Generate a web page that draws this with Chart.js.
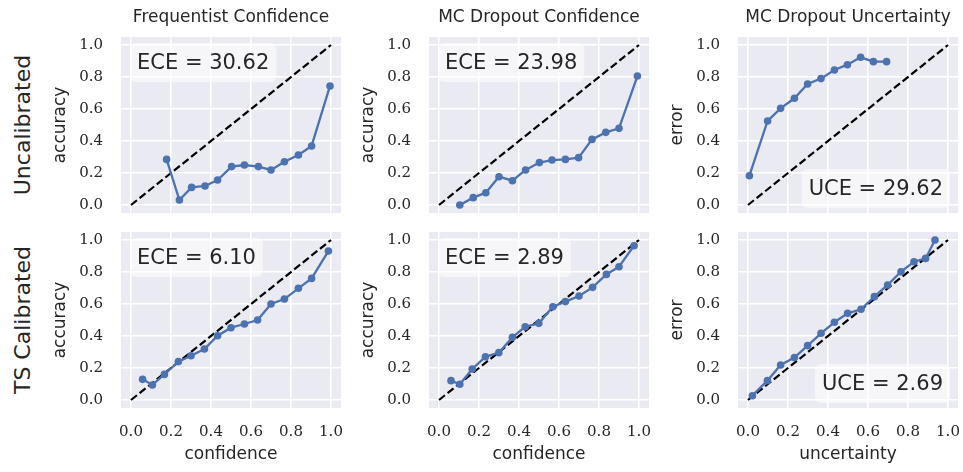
<!DOCTYPE html>
<html>
<head>
<meta charset="utf-8">
<script src="https://cdn.jsdelivr.net/npm/chart.js@4.4.0/dist/chart.umd.min.js"></script>
<style>
  body { margin: 0; background: #fff; width: 963px; height: 472px; overflow: hidden; position: relative; }
  canvas { position: absolute; }
  .rowlab {
    position: absolute; font-family: 'DejaVu Sans', sans-serif; font-size: 22px; color: #262626;
    transform: translate(-50%, -50%) rotate(-90deg); white-space: nowrap;
  }
</style>
</head>
<body>
<div class="rowlab" style="left:22px;top:125px">Uncalibrated</div>
<div class="rowlab" style="left:22px;top:320px">TS Calibrated</div>

<canvas id="p0"></canvas>
<canvas id="p1"></canvas>
<canvas id="p2"></canvas>
<canvas id="p3"></canvas>
<canvas id="p4"></canvas>
<canvas id="p5"></canvas>

<script>
// ---- data ----
const tickValues = [0, 0.2, 0.4, 0.6, 0.8, 1.0];
const diagonal = [0, 1];

const colTitles = ["Frequentist Confidence", "MC Dropout Confidence", "MC Dropout Uncertainty"];
const yLabels = ["accuracy", "accuracy", "error"];
const xLabels = ["confidence", "confidence", "uncertainty"];

// uncalibrated row
const freqUncalX = [0.178, 0.242, 0.303, 0.37, 0.433, 0.503, 0.567, 0.637, 0.70, 0.767, 0.837, 0.903, 0.995];
const freqUncalY = [0.285, 0.031, 0.11, 0.119, 0.156, 0.24, 0.25, 0.24, 0.219, 0.27, 0.3125, 0.369, 0.744];
const mcUncalX = [0.104, 0.171, 0.234, 0.30, 0.367, 0.433, 0.502, 0.565, 0.632, 0.698, 0.765, 0.834, 0.90, 0.992];
const mcUncalY = [0.0, 0.046, 0.077, 0.177, 0.152, 0.219, 0.265, 0.281, 0.285, 0.296, 0.41, 0.454, 0.479, 0.806];
const uncUncalX = [0.007, 0.098, 0.163, 0.232, 0.298, 0.365, 0.432, 0.497, 0.563, 0.627, 0.693];
const uncUncalY = [0.183, 0.525, 0.604, 0.667, 0.756, 0.79, 0.844, 0.877, 0.923, 0.896, 0.896];

// temperature scaled row
const freqTsX = [0.058, 0.107, 0.167, 0.237, 0.30, 0.367, 0.433, 0.50, 0.567, 0.633, 0.70, 0.767, 0.837, 0.903, 0.987];
const freqTsY = [0.129, 0.094, 0.16, 0.24, 0.277, 0.319, 0.402, 0.452, 0.475, 0.50, 0.60, 0.631, 0.698, 0.76, 0.931];
const mcTsX = [0.06, 0.104, 0.166, 0.232, 0.299, 0.367, 0.431, 0.499, 0.569, 0.632, 0.70, 0.768, 0.837, 0.90, 0.975];
const mcTsY = [0.121, 0.098, 0.194, 0.27, 0.296, 0.392, 0.458, 0.479, 0.583, 0.615, 0.65, 0.704, 0.785, 0.833, 0.964];
const uncTsX = [0.022, 0.097, 0.163, 0.232, 0.298, 0.365, 0.432, 0.498, 0.565, 0.632, 0.698, 0.765, 0.83, 0.888, 0.935];
const uncTsY = [0.027, 0.121, 0.219, 0.265, 0.34, 0.417, 0.486, 0.542, 0.567, 0.646, 0.719, 0.802, 0.864, 0.885, 1.0];

const scoreNames = ["ECE", "ECE", "UCE", "ECE", "ECE", "UCE"];
const scoreValues = ["30.62", "23.98", "29.62", "6.10", "2.89", "2.69"];

// ---- layout ----
const COL_LEFT = [41, 349, 658];   // canvas left, plot area starts 80px further right
const Y_AXIS_W = 80;
const CANVAS_W = 304;
const SANS = "'DejaVu Sans', sans-serif";
const SERIF = "'DejaVu Serif', serif";
const TEXT = "#262626";

// grey plot background
const bgPlugin = {
  id: "bg",
  beforeDraw(chart) {
    const a = chart.chartArea, ctx = chart.ctx;
    ctx.save();
    ctx.fillStyle = "#EAEAF2";
    ctx.fillRect(a.left, a.top, a.right - a.left, a.bottom - a.top);
    ctx.restore();
  }
};

// ECE / UCE box
const scorePlugin = {
  id: "score",
  afterDatasetsDraw(chart, args, opts) {
    const a = chart.chartArea, ctx = chart.ctx;
    ctx.save();
    ctx.font = "21px " + SANS;
    const txt = opts.text;
    const w = ctx.measureText(txt).width + 14;
    const h = 39;
    let x, y;
    if (opts.corner === "tl") { x = a.left + 9; y = a.top + 6; }
    else { x = a.right - 8 - w; y = a.bottom - 5 - h; }
    ctx.fillStyle = "rgba(255,255,255,0.55)";
    ctx.beginPath();
    ctx.roundRect(x, y, w, h, 6);
    ctx.fill();
    ctx.fillStyle = TEXT;
    ctx.textBaseline = "alphabetic";
    ctx.fillText(txt, x + 7, y + 26);
    ctx.restore();
  }
};

function makePanel(idx, xs, ys) {
  const col = idx % 3, row = Math.floor(idx / 3);
  const top = row === 0 ? 0 : 222;
  const height = row === 0 ? 222 : 250;
  const cv = document.getElementById("p" + idx);
  cv.width = CANVAS_W; cv.height = height;
  cv.style.left = COL_LEFT[col] + "px";
  cv.style.top = top + "px";
  cv.style.width = CANVAS_W + "px";
  cv.style.height = height + "px";

  const bottomRow = row === 1;
  const pts = xs.map((x, i) => ({ x: x, y: ys[i] }));
  const diag = diagonal.map(v => ({ x: v, y: v }));

  new Chart(cv.getContext("2d"), {
    type: "scatter",
    data: {
      datasets: [
        {
          data: pts, showLine: true, borderColor: "#4C72B0", backgroundColor: "#4C72B0",
          borderWidth: 2.3, pointRadius: 3.8, pointBorderWidth: 0, order: 0
        },
        {
          data: diag, showLine: true, borderColor: "#000", borderWidth: 2.2,
          borderDash: [7.6, 3.4], pointRadius: 0, order: 1
        }
      ]
    },
    options: {
      responsive: false,
      animation: false,
      layout: { padding: { top: bottomRow ? 10 : 0, right: 4, left: 0, bottom: 0 } },
      plugins: {
        legend: { display: false },
        tooltip: { enabled: false },
        title: {
          display: !bottomRow,
          fullSize: false,
          text: colTitles[col],
          color: TEXT,
          font: { family: SANS, size: 17, weight: "normal" },
          padding: { top: 7, bottom: 9.6 }
        },
        score: { text: scoreNames[idx] + " = " + scoreValues[idx], corner: col === 2 ? "br" : "tl" }
      },
      scales: {
        x: {
          type: "linear", min: -0.05, max: 1.05,
          afterBuildTicks: s => { s.ticks = tickValues.map(v => ({ value: v })); },
          afterFit: s => { s.height = bottomRow ? 64 : 9; s.paddingLeft = 0; s.paddingRight = 0; },
          grid: { color: "#fff", lineWidth: 1.5, drawTicks: false },
          border: { display: false },
          ticks: {
            display: bottomRow, padding: 15, color: TEXT,
            font: { family: SERIF, size: 15 },
            callback: v => v.toFixed(1)
          },
          title: {
            display: bottomRow, text: xLabels[col], color: TEXT,
            font: { family: SANS, size: 17 }, padding: { top: 0, bottom: 6.8 }
          }
        },
        y: {
          type: "linear", min: -0.05, max: 1.05,
          afterBuildTicks: s => { s.ticks = tickValues.map(v => ({ value: v })); },
          afterFit: s => { s.width = Y_AXIS_W; s.paddingTop = 0; s.paddingBottom = 0; },
          grid: { color: "#fff", lineWidth: 1.5, drawTicks: false },
          border: { display: false },
          ticks: {
            padding: 18, color: TEXT,
            font: { family: SERIF, size: 15 },
            callback: v => v.toFixed(1)
          },
          title: {
            display: true, text: yLabels[col], color: TEXT,
            font: { family: SANS, size: 17 }, padding: { top: 9.8, bottom: 0 }
          }
        }
      }
    },
    plugins: [bgPlugin, scorePlugin]
  });
}

makePanel(0, freqUncalX, freqUncalY);
makePanel(1, mcUncalX, mcUncalY);
makePanel(2, uncUncalX, uncUncalY);
makePanel(3, freqTsX, freqTsY);
makePanel(4, mcTsX, mcTsY);
makePanel(5, uncTsX, uncTsY);
</script>
</body>
</html>
